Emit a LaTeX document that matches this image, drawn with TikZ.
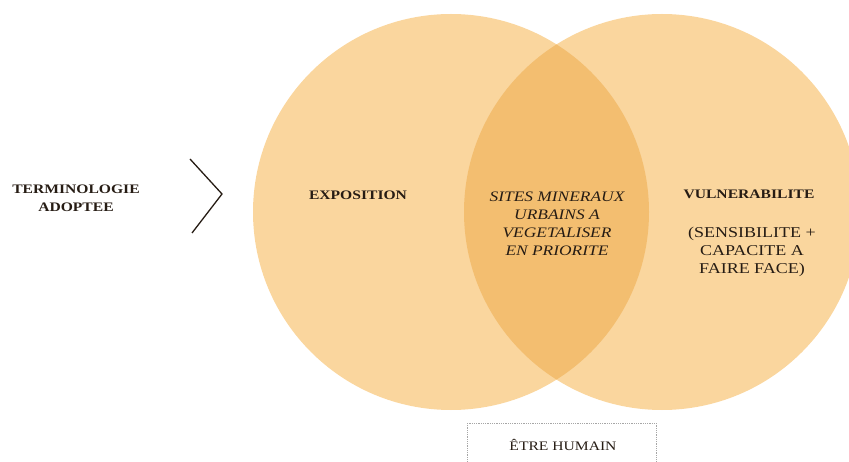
\documentclass[tikz,border=0pt]{standalone}
\usepackage{fontspec}
\setmainfont{Liberation Serif}[FakeStretch=1.2]
\usepackage{tikz}
\usetikzlibrary{positioning}
\definecolor{peach}{RGB}{250,214,158}
\definecolor{lens}{RGB}{243,190,112}
\definecolor{ink}{RGB}{38,28,20}

\begin{document}
\begin{tikzpicture}[x=1pt,y=-1pt,
  lbl/.style={align=center,text=ink,font=\fontsize{13}{18}\selectfont,inner sep=0pt},
  bold/.style={lbl,font=\fontsize{13}{18}\selectfont\bfseries}]
\clip (0,0) rectangle (849,462);
\useasboundingbox (0,0) rectangle (849,462);
\fill[peach] (451,212) circle (198);
\fill[peach] (662,212) circle (198);
\begin{scope}
\clip (451,212) circle (198);
\fill[lens] (662,212) circle (198);
\end{scope}
\node[bold] (term) at (76,198) {TERMINOLOGIE\\ADOPTEE};
\coordinate (C1) at (190,159);
\coordinate (C2) at (222,194);
\coordinate (C3) at (192,233);
\draw[line width=1.3pt,ink] (C1) -- (C2) -- (C3);
\node[bold] (expo) at (358,195) {EXPOSITION};
\node[lbl,font=\fontsize{14.5}{18}\selectfont\itshape] (sites) at (557,224) {SITES MINERAUX\\URBAINS A\\VEGETALISER\\EN PRIORITE};
\node[bold] (vuln) at (749,194) {VULNERABILITE};
\node[lbl,font=\fontsize{15}{18}\selectfont] (sens) at (752,252) {(SENSIBILITE +\\CAPACITE A\\FAIRE FACE)};
\draw[gray!70,densely dotted,line width=0.8pt] (467,423) rectangle (656,480);
\node[lbl] (etre) at (563,445) {ÊTRE HUMAIN};
\end{tikzpicture}
\end{document}
